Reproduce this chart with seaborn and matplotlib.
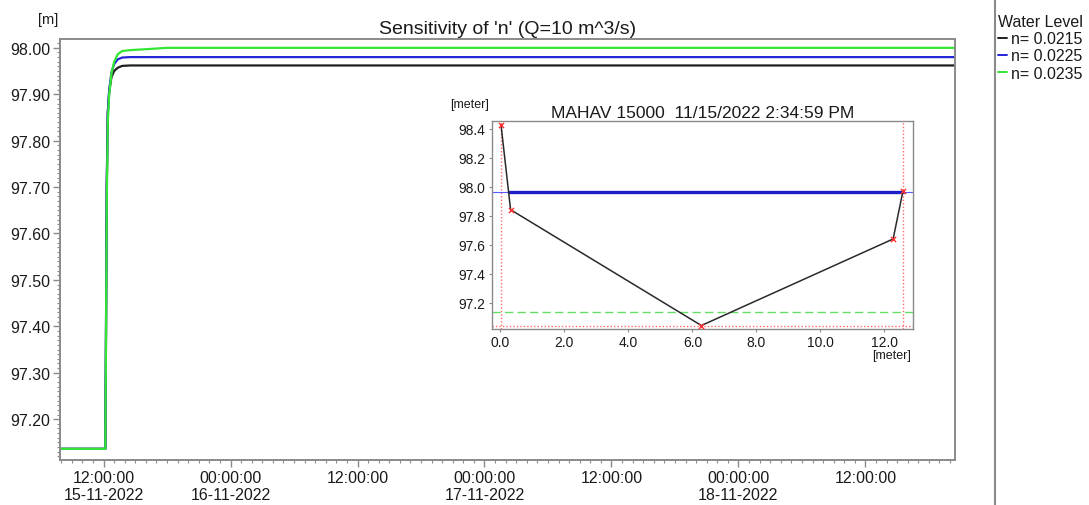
import numpy as np
import pandas as pd
import matplotlib
matplotlib.use("Agg")
import matplotlib.pyplot as plt
import matplotlib.dates as mdates
from matplotlib.lines import Line2D
from matplotlib.ticker import MultipleLocator, FixedLocator, FormatStrFormatter
import seaborn as sns

# ---------------- data ----------------
times = ["2022-11-15 07:50", "2022-11-15 12:10", "2022-11-15 12:14", "2022-11-15 12:18",
         "2022-11-15 12:24", "2022-11-15 12:32", "2022-11-15 12:45", "2022-11-15 13:00",
         "2022-11-15 13:20", "2022-11-15 13:45", "2022-11-15 14:30", "2022-11-15 16:00",
         "2022-11-15 18:00", "2022-11-18 21:00"]
level_n0215 = [97.136, 97.136, 97.40, 97.70, 97.86, 97.905, 97.937, 97.950, 97.957,
               97.961, 97.962, 97.962, 97.962, 97.962]
level_n0225 = [97.136, 97.136, 97.40, 97.70, 97.86, 97.910, 97.947, 97.965, 97.975,
               97.979, 97.980, 97.980, 97.980, 97.980]
level_n0235 = [97.136, 97.136, 97.38, 97.66, 97.84, 97.900, 97.945, 97.970, 97.986,
               97.993, 97.995, 97.997, 98.000, 98.000]
series_labels = ["n= 0.0215", "n= 0.0225", "n= 0.0235"]
series_colors = ["#1e1e1e", "#2424d8", "#33e633"]

x_tick_times = ["2022-11-15 12:00", "2022-11-16 00:00", "2022-11-16 12:00", "2022-11-17 00:00",
                "2022-11-17 12:00", "2022-11-18 00:00", "2022-11-18 12:00"]
x_tick_labels = ["12:00:00\n15-11-2022", "00:00:00\n16-11-2022", "12:00:00",
                 "00:00:00\n17-11-2022", "12:00:00", "00:00:00\n18-11-2022", "12:00:00"]
x_range = ["2022-11-15 07:53", "2022-11-18 20:28"]
y_range = [97.112, 98.019]

# cross-section inset
section_x = [0.02, 0.32, 6.28, 12.27, 12.58]
section_z = [98.43, 97.843, 97.044, 97.641, 97.975]
water_level_inset = 97.963
initial_level_inset = 97.136

# ---------------- figure ----------------
sns.set_theme(style="white")
plt.rcParams['font.family'] = ['Liberation Sans', 'DejaVu Sans']
W, H = 1089, 506
fig = plt.figure(figsize=(W / 100, H / 100), dpi=100)
fig.patch.set_facecolor("white")

ax = fig.add_axes([60 / W, 1 - 461 / H, (955 - 60) / W, (461 - 40) / H])

frames = []
for lab, vals in zip(series_labels, [level_n0215, level_n0225, level_n0235]):
    frames.append(pd.DataFrame({"time": pd.to_datetime(times), "level": vals, "series": lab}))
df = pd.concat(frames, ignore_index=True)

sns.lineplot(data=df, x="time", y="level", hue="series", palette=series_colors,
             hue_order=series_labels, linewidth=1.6, ax=ax, legend=True, estimator=None)

ax.set_xlim(pd.to_datetime(x_range[0]), pd.to_datetime(x_range[1]))
ax.set_ylim(*y_range)
ax.xaxis.set_major_locator(FixedLocator(mdates.date2num(pd.to_datetime(x_tick_times))))
ax.set_xticklabels(x_tick_labels)
ax.xaxis.set_minor_locator(mdates.HourLocator())
ax.yaxis.set_major_locator(MultipleLocator(0.1))
ax.yaxis.set_minor_locator(MultipleLocator(0.01))
ax.yaxis.set_major_formatter(FormatStrFormatter("%.2f"))
ax.set_xlabel("")
ax.set_ylabel("")
for s in ax.spines.values():
    s.set_color("#8a8a8a")
    s.set_linewidth(1.4)
ax.tick_params(axis="both", which="major", direction="out", length=5, width=1,
               color="#8a8a8a", labelsize=11.5, labelcolor="#1a1a1a", pad=2)
ax.tick_params(axis="both", which="minor", direction="out", length=2.5, width=0.8,
               color="#8a8a8a")
ax.tick_params(axis="both", which="both", bottom=True, left=True)
ax.set_title("Sensitivity of 'n' (Q=10 m^3/s)", fontsize=14, color="#1a1a1a", pad=4)
fig.text(48 / W, 1 - 20 / H, "[m]", ha="center", va="center", fontsize=10.5, color="#1a1a1a")

handles, labels = ax.get_legend_handles_labels()
leg = ax.legend(handles, labels, title="Water Level", loc="upper left",
                bbox_to_anchor=(998 / W, 1 - 15 / H), bbox_transform=fig.transFigure,
                frameon=False, fontsize=11.5, title_fontsize=11.5, handlelength=0.55,
                handletextpad=0.25, borderpad=0, borderaxespad=0, labelspacing=0.14,
                alignment="left")
for t in leg.get_texts():
    t.set_color("#1a1a1a")
leg.get_title().set_color("#1a1a1a")
for h in leg.legend_handles:
    h.set_linewidth(1.4)

fig.add_artist(Line2D([995 / W, 995 / W], [0, 1], transform=fig.transFigure,
                      color="#8a8a8a", linewidth=1.5))

# ---------------- inset ----------------
ins = fig.add_axes([491.7 / W, 1 - 330 / H, (913.3 - 491.7) / W, (330 - 121.7) / H])
ins.set_facecolor("white")
sec = pd.DataFrame({"x": section_x, "z": section_z})
ins.set_xlim(-0.27, 12.9)
ins.set_ylim(97.02, 98.457)

ins.axvline(section_x[0], color="#ff6a6a", linestyle=(0, (1, 1.5)), linewidth=1.0)
ins.axvline(section_x[-1], color="#ff6a6a", linestyle=(0, (1, 1.5)), linewidth=1.0)
ins.axhline(min(section_z), color="#ff6a6a", linestyle=(0, (1, 1.5)), linewidth=1.0)
ins.axhline(initial_level_inset, color="#66dd66", linestyle=(0, (6, 3)), linewidth=1.0)
ins.axhline(water_level_inset, color="#5a5aff", linewidth=0.8)

# wetted extent of the water surface from the section geometry
imin = int(np.argmin(section_z))
left_x = np.interp(water_level_inset, section_z[:imin + 1][::-1], section_x[:imin + 1][::-1])
right_x = np.interp(water_level_inset, section_z[imin:], section_x[imin:])
wet = pd.DataFrame({"x": [left_x, right_x], "z": [water_level_inset, water_level_inset]})
sns.lineplot(data=wet, x="x", y="z", color="#1c1cc8", linewidth=2.4, ax=ins, estimator=None)

sns.lineplot(data=sec, x="x", y="z", color="#2a2a2a", linewidth=1.1, ax=ins,
             estimator=None, sort=False)
sns.scatterplot(data=sec, x="x", y="z", marker="x", color="#ff3030", s=14,
                linewidth=1.0, ax=ins, zorder=5)

ins.xaxis.set_major_locator(MultipleLocator(2))
ins.xaxis.set_major_formatter(FormatStrFormatter("%.1f"))
ins.yaxis.set_major_locator(MultipleLocator(0.2))
ins.yaxis.set_major_formatter(FormatStrFormatter("%.1f"))
ins.set_xlabel("")
ins.set_ylabel("")
for s in ins.spines.values():
    s.set_color("#8a8a8a")
    s.set_linewidth(1.0)
ins.tick_params(axis="both", which="major", direction="out", length=2.5, width=0.8,
                color="#8a8a8a", labelsize=10, labelcolor="#1a1a1a", pad=2)
ins.tick_params(axis="both", which="both", bottom=True, left=True)
ins.set_title("MAHAV 15000  11/15/2022 2:34:59 PM", fontsize=12.5, color="#1a1a1a", pad=3)
fig.text(470 / W, 1 - 105 / H, "[meter]", ha="center", va="center", fontsize=9, color="#1a1a1a")
fig.text(892 / W, 1 - 356 / H, "[meter]", ha="center", va="center", fontsize=9, color="#1a1a1a")

fig.savefig("out.png", dpi=100, facecolor="white")
